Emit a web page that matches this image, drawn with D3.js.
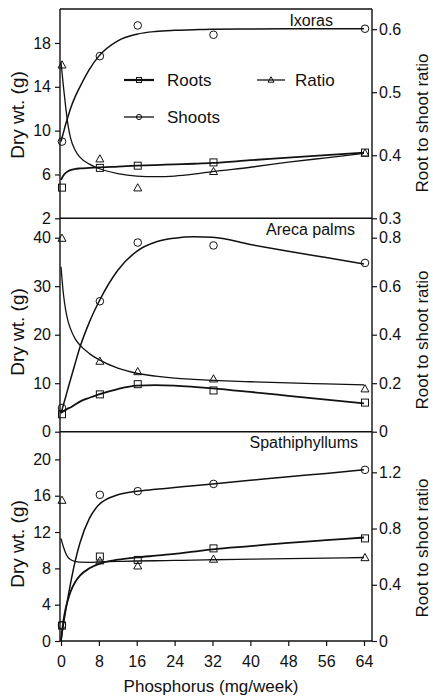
<!DOCTYPE html>
<html><head><meta charset="utf-8">
<script src="https://cdn.jsdelivr.net/npm/d3@7"></script>
<style>
body{margin:0;background:#fff}
svg{display:block}
text{font-family:"Liberation Sans",Arial,Helvetica,sans-serif;fill:#111}
</style>
</head><body>
<svg id="chart" width="433" height="698"></svg>
<script>
// ---- data ----
const phosphorus = [0, 8, 16, 32, 64];
const xTicks = [0, 8, 16, 24, 32, 40, 48, 56, 64];

const ixoraRoots  = [4.8, 6.6, 6.8, 7.1, 8.0];
const ixoraShoots = [9.0, 16.8, 19.6, 18.75, 19.3];
const ixoraRatio  = [0.543, 0.394, 0.348, 0.374, 0.403];

const arecaRoots  = [3.6, 7.7, 9.8, 8.5, 6.0];
const arecaShoots = [4.9, 26.9, 39.0, 38.4, 34.8];
const arecaRatio  = [0.797, 0.29, 0.247, 0.217, 0.176];

const spathRoots  = [1.7, 9.3, 8.93, 10.2, 11.3];
const spathShoots = [1.76, 16.1, 16.5, 17.3, 18.85];
const spathRatio  = [1.0, 0.569, 0.533, 0.581, 0.592];

// fitted curves at these phosphorus levels
const fitX = [0, 0.5, 1, 1.5, 2, 3, 4, 6, 8, 12, 16, 20, 24, 28, 32, 40, 48, 56, 64];
const ixoraRootsFit  = [5.5, 5.9, 6.15, 6.3, 6.4, 6.5, 6.55, 6.6, 6.65, 6.72, 6.8, 6.86, 6.92, 6.98, 7.05, 7.3, 7.53, 7.77, 8.0];
const ixoraShootsFit = [9.0, 9.8, 10.6, 11.3, 12.0, 13.1, 14.0, 15.6, 16.8, 18.2, 18.8, 19.05, 19.15, 19.2, 19.25, 19.28, 19.3, 19.3, 19.3];
const ixoraRatioFit  = [0.548, 0.51, 0.476, 0.447, 0.428, 0.408, 0.397, 0.386, 0.379, 0.371, 0.367, 0.366, 0.367, 0.37, 0.374, 0.381, 0.389, 0.396, 0.403];
const arecaRootsFit  = [3.9, 4.2, 4.5, 4.8, 5.0, 5.6, 6.2, 7.0, 7.7, 8.8, 9.5, 9.62, 9.5, 9.25, 8.95, 8.2, 7.4, 6.6, 5.85];
const arecaShootsFit = [3.8, 5.5, 7.2, 9.0, 10.7, 14.1, 17.4, 22.6, 26.8, 33.3, 37.2, 39.1, 39.9, 40.2, 40.1, 38.6, 37.2, 35.9, 34.6];
const arecaRatioFit  = [0.68, 0.57, 0.5, 0.455, 0.425, 0.383, 0.357, 0.322, 0.297, 0.262, 0.241, 0.229, 0.221, 0.216, 0.212, 0.206, 0.201, 0.197, 0.193];
const spathRootsFit  = [0, 2.2, 3.6, 4.6, 5.4, 6.5, 7.2, 8.0, 8.5, 8.95, 9.2, 9.4, 9.6, 9.85, 10.1, 10.45, 10.8, 11.1, 11.4];
const spathShootsFit = [0.1, 1.8, 3.4, 4.9, 6.3, 8.8, 10.8, 13.5, 15.0, 16.1, 16.5, 16.7, 16.9, 17.1, 17.3, 17.7, 18.1, 18.45, 18.85];
const spathRatioFit  = [0.73, 0.67, 0.625, 0.595, 0.58, 0.566, 0.561, 0.56, 0.562, 0.566, 0.569, 0.571, 0.573, 0.575, 0.578, 0.582, 0.586, 0.59, 0.594];

const panelNames = ["Ixoras", "Areca palms", "Spathiphyllums"];
const leftTicks  = [[2, 6, 10, 14, 18], [0, 10, 20, 30, 40], [0, 4, 8, 12, 16, 20]];
const rightTicks = [[0.3, 0.4, 0.5, 0.6], [0, 0.2, 0.4, 0.6, 0.8], [0, 0.4, 0.8, 1.2]];
const leftDomains  = [[2, 21.1], [0, 44], [0, 23.05]];
const rightDomains = [[0.3, 0.632], [0, 0.88], [0, 1.489]];
const legendLabels = ["Roots", "Shoots", "Ratio"];

// ---- layout ----
const svg = d3.select("#chart");
const X0 = 60, X1 = 372;
const tops = [9, 218.3, 431.7], bottoms = [218.3, 431.7, 641];
const titlePos = [[333, 26], [355, 235], [358, 448]];
const yLabCenter = [115, 332, 544];
const rLabCenter = [123, 340, 548];
const ink = "#111";

const x = d3.scaleLinear().domain([-0.21, 65.69]).range([X0, X1]);

const series = [
  {roots: ixoraRoots, shoots: ixoraShoots, ratio: ixoraRatio, rf: ixoraRootsFit, sf: ixoraShootsFit, qf: ixoraRatioFit},
  {roots: arecaRoots, shoots: arecaShoots, ratio: arecaRatio, rf: arecaRootsFit, sf: arecaShootsFit, qf: arecaRatioFit},
  {roots: spathRoots, shoots: spathShoots, ratio: spathRatio, rf: spathRootsFit, sf: spathShootsFit, qf: spathRatioFit}
];

const fmtR = d => d === 0 ? "0" : d3.format(".1f")(d);

function square(g, cx, cy, s) {
  g.append("rect").attr("x", cx - s/2).attr("y", cy - s/2).attr("width", s).attr("height", s)
    .attr("fill", "none").attr("stroke", ink).attr("stroke-width", 1);
}
function circle(g, cx, cy, r) {
  g.append("circle").attr("cx", cx).attr("cy", cy).attr("r", r)
    .attr("fill", "none").attr("stroke", ink).attr("stroke-width", 1);
}
function triangle(g, cx, cy, s) {
  const h = s * 0.9;
  g.append("path").attr("d", `M${cx},${cy - h*0.6}L${cx + s/2},${cy + h*0.4}L${cx - s/2},${cy + h*0.4}Z`)
    .attr("fill", "none").attr("stroke", ink).attr("stroke-width", 1);
}

series.forEach((s, i) => {
  const yL = d3.scaleLinear().domain(leftDomains[i]).range([bottoms[i], tops[i]]);
  const yR = d3.scaleLinear().domain(rightDomains[i]).range([bottoms[i], tops[i]]);
  const g = svg.append("g");

  // left axis
  const la = g.append("g").attr("transform", `translate(${X0},0)`)
    .call(d3.axisLeft(yL).tickValues(leftTicks[i]).tickSize(5).tickPadding(4).tickSizeOuter(0));
  la.select(".domain").remove();
  la.selectAll("line").attr("stroke", ink).attr("stroke-width", 1.2);
  la.selectAll("text").attr("font-size", 16).attr("fill", ink).style("font-family", '"Liberation Sans",Arial,sans-serif');

  // right axis
  const ra = g.append("g").attr("transform", `translate(${X1},0)`)
    .call(d3.axisRight(yR).tickValues(rightTicks[i]).tickFormat(fmtR).tickSize(5).tickPadding(2).tickSizeOuter(0));
  ra.select(".domain").remove();
  ra.selectAll("line").attr("stroke", ink).attr("stroke-width", 1.2);
  ra.selectAll("text").attr("font-size", 16).attr("fill", ink).style("font-family", '"Liberation Sans",Arial,sans-serif');

  // panel title
  g.append("text").attr("x", titlePos[i][0]).attr("y", titlePos[i][1])
    .attr("text-anchor", "end").attr("font-size", 16).text(panelNames[i]);

  // axis titles
  g.append("text").attr("transform", `translate(24,${yLabCenter[i]}) rotate(-90)`)
    .attr("text-anchor", "middle").attr("font-size", 19).text("Dry wt. (g)");
  g.append("text").attr("transform", `translate(428,${rLabCenter[i]}) rotate(-90)`)
    .attr("text-anchor", "middle").attr("font-size", 17).text("Root to shoot ratio");

  // fitted curves
  const lineL = d3.line().x((d, k) => x(fitX[k])).y(d => yL(d)).curve(d3.curveMonotoneX);
  const lineR = d3.line().x((d, k) => x(fitX[k])).y(d => yR(d)).curve(d3.curveMonotoneX);
  g.append("path").attr("d", lineL(s.rf)).attr("fill", "none").attr("stroke", ink).attr("stroke-width", 1.8);
  g.append("path").attr("d", lineL(s.sf)).attr("fill", "none").attr("stroke", ink).attr("stroke-width", 1.5);
  g.append("path").attr("d", lineR(s.qf)).attr("fill", "none").attr("stroke", ink).attr("stroke-width", 1.3);

  // markers
  phosphorus.forEach((p, k) => {
    square(g, x(p) + 1, yL(s.roots[k]), 7);
    circle(g, x(p) + 1, yL(s.shoots[k]), 3.8);
    triangle(g, x(p) + 1, yR(s.ratio[k]), 8);
  });
});

// frame lines
const frame = svg.append("g").attr("stroke", ink).attr("stroke-width", 1.4);
frame.append("line").attr("x1", X0).attr("x2", X0).attr("y1", tops[0]).attr("y2", bottoms[2]);
frame.append("line").attr("x1", X1).attr("x2", X1).attr("y1", tops[0]).attr("y2", bottoms[2]);
[tops[0], bottoms[0], bottoms[1], bottoms[2]].forEach(yy =>
  frame.append("line").attr("x1", X0).attr("x2", X1).attr("y1", yy).attr("y2", yy));

// x axis
const xa = svg.append("g").attr("transform", `translate(0,${bottoms[2]})`)
  .call(d3.axisBottom(x).tickValues(xTicks).tickSize(5).tickPadding(10).tickSizeOuter(0));
xa.select(".domain").remove();
xa.selectAll("line").attr("stroke", ink).attr("stroke-width", 1.2);
xa.selectAll("text").attr("font-size", 16).attr("fill", ink).style("font-family", '"Liberation Sans",Arial,sans-serif');
svg.append("text").attr("x", 211).attr("y", 692).attr("text-anchor", "middle")
  .attr("font-size", 17).text("Phosphorus (mg/week)");

// legend (top panel)
const lg = svg.append("g");
const legRows = [{lx: 124, y: 80, tx: 167}, {lx: 124, y: 117, tx: 167}, {lx: 257, y: 80, tx: 295}];
legRows.forEach((r, k) => {
  const len = k === 2 ? 28 : 30;
  lg.append("line").attr("x1", r.lx).attr("x2", r.lx + len).attr("y1", r.y).attr("y2", r.y)
    .attr("stroke", ink).attr("stroke-width", k === 0 ? 2.2 : 1.3);
  const cx = r.lx + len / 2;
  if (k === 0) square(lg, cx, r.y, 5);
  else if (k === 1) circle(lg, cx, r.y, 2.6);
  else triangle(lg, cx, r.y, 6);
  lg.append("text").attr("x", r.tx).attr("y", r.y + 6).attr("font-size", 17).text(legendLabels[k]);
});
</script>
</body></html>
